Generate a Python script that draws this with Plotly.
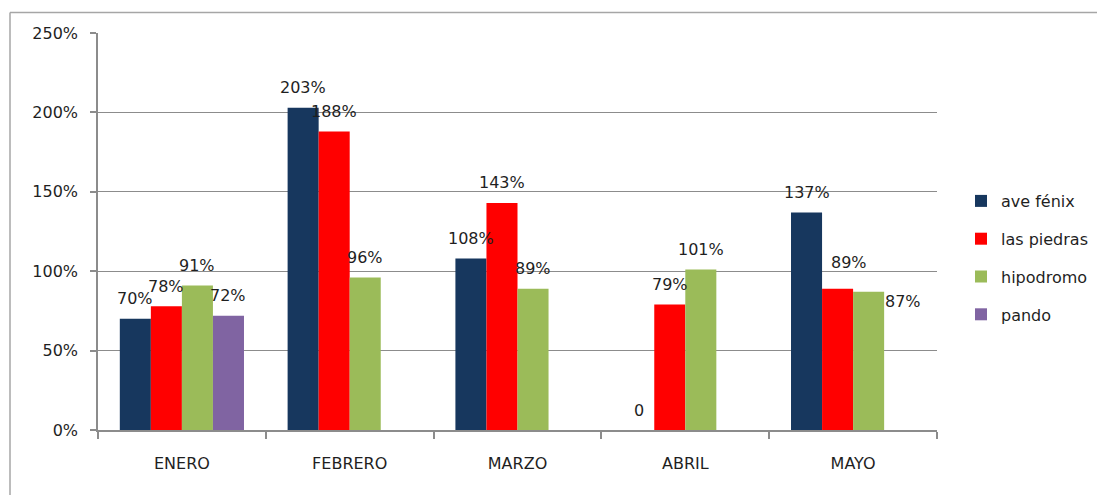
import plotly.graph_objects as go

# datos del grafico
meses = ["ENERO", "FEBRERO", "MARZO", "ABRIL", "MAYO"]
series = ["ave fénix", "las piedras", "hipodromo", "pando"]
ave_fenix = [0.70, 2.03, 1.08, 0.0, 1.37]
las_piedras = [0.78, 1.88, 1.43, 0.79, 0.89]
hipodromo = [0.91, 0.96, 0.89, 1.01, 0.87]
pando = [0.72, None, None, None, None]
etiquetas_ave = ["70%", "203%", "108%", "0", "137%"]
ticks_y = [0, 0.5, 1.0, 1.5, 2.0, 2.5]
ticks_y_txt = ["0%", "50%", "100%", "150%", "200%", "250%"]

colores = ["#17375E", "#FF0000", "#9BBB59", "#8064A2"]
valores = [ave_fenix, las_piedras, hipodromo, pando]

FUENTE = "DejaVu Sans"
TXT = "#1F1F1F"
GAP = 0.26

fig = go.Figure()
for i, (nombre, vals) in enumerate(zip(series, valores)):
    fig.add_trace(go.Bar(
        name=nombre, x=meses, y=vals, marker_color=colores[i],
        marker_line_width=0, legendgroup=nombre,
    ))

# etiquetas de datos (colocadas como en excel, un poco encima de cada barra)
w = (1 - GAP) / len(series)
anotaciones = []
for i, vals in enumerate(valores):
    for c, v in enumerate(vals):
        if v is None:
            continue
        txt = etiquetas_ave[c] if i == 0 else f"{round(v * 100)}%"
        xs, ys = 0, 20
        if meses[c] == "MAYO" and i == 1:
            xs, ys = 11, 26
        if meses[c] == "MAYO" and i == 2:
            xs, ys = 34, -10
        anotaciones.append(dict(
            x=c + (i - 1.5) * w, y=v, xref="x", yref="y", text=txt,
            showarrow=False, xshift=xs, yshift=ys,
            font=dict(family=FUENTE, size=16, color=TXT),
        ))

L, R, T, B = 98, 160, 33, 65
pw, ph = 1097 - L - R, 495 - T - B

fig.update_layout(
    width=1097, height=495,
    margin=dict(l=L, r=R, t=T, b=B),
    paper_bgcolor="white", plot_bgcolor="white",
    barmode="group", bargap=GAP, bargroupgap=0,
    font=dict(family=FUENTE, size=16, color=TXT),
    annotations=anotaciones,
    legend=dict(
        xref="container", yref="container",
        x=961 / 1097, y=1 - 184 / 495,
        xanchor="left", yanchor="top",
        font=dict(family=FUENTE, size=16, color=TXT),
        tracegroupgap=14, itemwidth=30,
    ),
    shapes=[
        dict(type="line", xref="paper", yref="paper",
             x0=(10 - L) / pw, x1=(1097 - L) / pw,
             y0=1 + (T - 12.5) / ph, y1=1 + (T - 12.5) / ph,
             line=dict(color="#A6A6A6", width=1.5)),
        dict(type="line", xref="paper", yref="paper",
             x0=(10 - L) / pw, x1=(10 - L) / pw,
             y0=1 + (T - 12.5) / ph, y1=-B / ph,
             line=dict(color="#A6A6A6", width=1.5)),
    ],
)
fig.update_xaxes(
    showline=True, linecolor="#8C8C8C", linewidth=1.5,
    ticks="outside", tickson="boundaries", ticklen=7, tickcolor="#8C8C8C",
    tickwidth=1.5, showgrid=False, tickfont=dict(size=16),
    ticklabelstandoff=18,
)
fig.update_yaxes(
    range=[0, 2.5], tickvals=ticks_y, ticktext=ticks_y_txt,
    showline=True, linecolor="#8C8C8C", linewidth=1.5,
    ticks="outside", ticklen=6, tickcolor="#8C8C8C", tickwidth=1.5,
    showgrid=True, gridcolor="#8C8C8C", gridwidth=1.2, zeroline=False,
    tickfont=dict(size=16), ticklabelstandoff=9,
)

fig.write_html("out.html", config={"displayModeBar": False},
               post_script="document.body.style.margin='0px';")
